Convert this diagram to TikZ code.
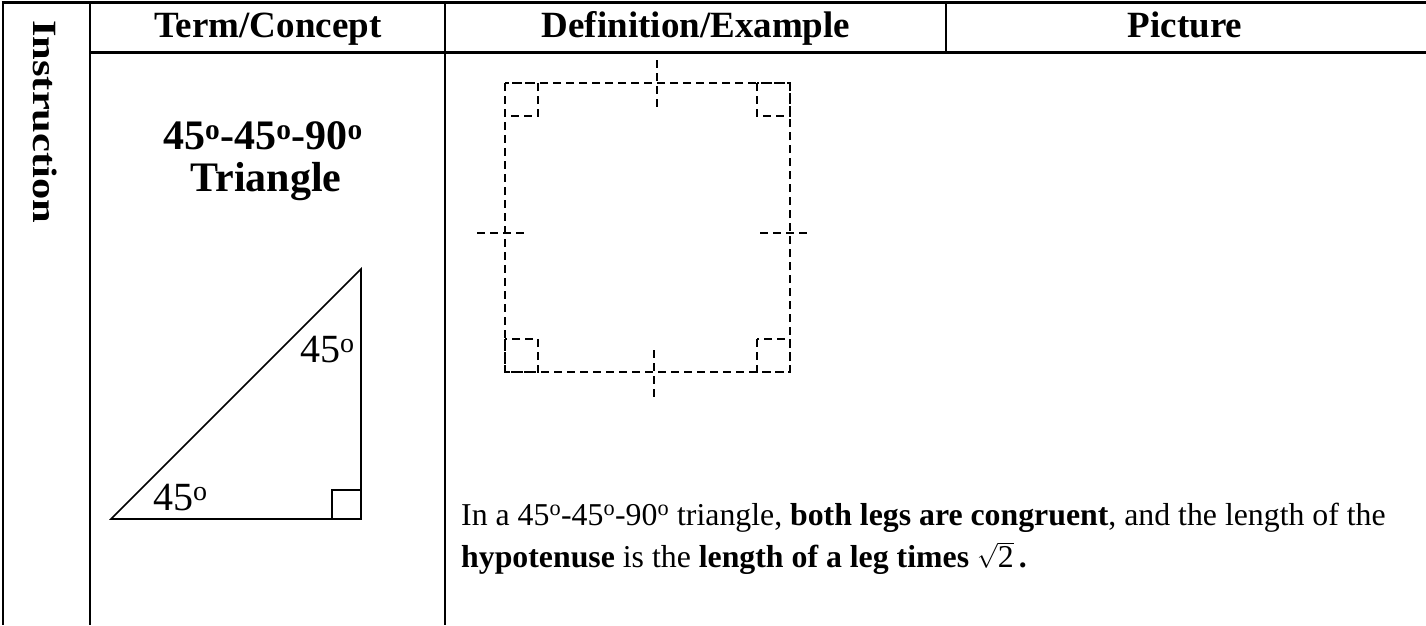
\documentclass[tikz,border=0pt]{standalone}
\usepackage{fontspec}
\usepackage{graphicx}
\setmainfont{Liberation Serif}
\newcommand\ordo{\textsuperscript{o}}
\begin{document}
\begin{tikzpicture}[x=1pt,y=-1pt,
  grid/.style={line width=2.6pt},
  dsh/.style={dash pattern=on 8pt off 5pt, line width=2pt},
  tri/.style={line width=1.6pt},
  hdr/.style={font=\fontsize{37}{40}\selectfont\bfseries, inner sep=0pt, anchor=base},
  ttl/.style={font=\fontsize{42}{46}\selectfont\bfseries, inner sep=0pt, anchor=base},
  ang/.style={font=\fontsize{40}{44}\selectfont, inner sep=0pt, anchor=base west},
  body/.style={font=\fontsize{31.8}{36}\selectfont, inner sep=0pt, anchor=base west}]
\useasboundingbox (0,0) rectangle (1426,625);
% table rules
\draw[grid] (1.7,2.5) -- (1426,2.5);
\draw[grid] (3,1.2) -- (3,625);
\draw[grid] (90,2.5) -- (90,625);
\draw[grid] (445,2.5) -- (445,625);
\draw[grid] (946,2.5) -- (946,52.5);
\draw[grid] (90,52.5) -- (1426,52.5);
% headers
\node[hdr] (h1) at (268,37) {Term/Concept};
\node[hdr] (h2) at (696,37) {Definition/Example};
\node[hdr] (h3) at (1185,37) {Picture};
\node[font=\fontsize{34}{38}\selectfont\bfseries, inner sep=0pt, rotate=-90, anchor=base west] (instr) at (33,20) {\scalebox{1.25}[1]{Instruction}};
% term
\node[ttl] (t1) at (263,149) {45\ordo-45\ordo-90\ordo};
\node[ttl] (t2) at (266,191) {Triangle};
% triangle
\coordinate (A) at (111,519);
\coordinate (B) at (361,519);
\coordinate (C) at (361,269);
\draw[tri] (A) -- (B) -- (C) -- cycle;
\draw[tri] (332,490) rectangle (B);
\node[ang] (a1) at (300,362) {45\ordo};
\node[ang] (a2) at (153,510) {45\ordo};
% dashed square
\draw[dsh] (505,83) rectangle (790,372);
\draw[dsh] (505,83) rectangle (538,116);
\draw[dsh] (757,83) rectangle (790,116);
\draw[dsh] (505,339) rectangle (538,372);
\draw[dsh] (757,339) rectangle (790,372);
\draw[dsh] (657,60) -- (657,110);
\draw[dsh] (654,350) -- (654,398);
\draw[dsh] (477,233) -- (525,233);
\draw[dsh] (760,233) -- (808,233);
% definition text
\node[body] (d1) at (461,525) {In a 45\ordo-45\ordo-90\ordo{} triangle, \textbf{both legs are congruent}, and the length of the};
\node[body] (d2) at (461,567) {\textbf{hypotenuse} is the \textbf{length of a leg times} \smash{$\sqrt{\mbox{2}}$}\,\textbf{.}};
\end{tikzpicture}
\end{document}
